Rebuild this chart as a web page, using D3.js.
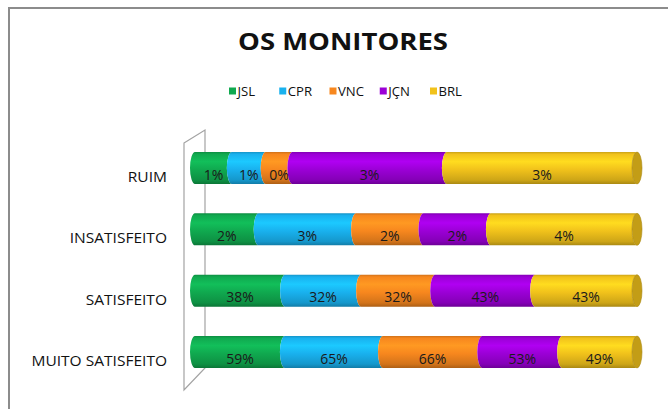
<!DOCTYPE html>
<html>
<head>
<meta charset="utf-8">
<script src="https://cdn.jsdelivr.net/npm/d3@7"></script>
<style>
  body { margin: 0; background: #fff; }
  text { font-family: "Open Sans", sans-serif; }
</style>
</head>
<body>
<div id="chart"></div>
<script>
// categories top to bottom, and one array per monitor
const categories = ["RUIM", "INSATISFEITO", "SATISFEITO", "MUITO SATISFEITO"];
const series = ["JSL", "CPR", "VNC", "JÇN", "BRL"];
const jsl = [0.62, 1.7, 38.4, 59.4];
const cpr = [0.57, 2.6, 32.4, 64.8];
const vnc = [0.45, 1.8, 31.6, 65.6];
const jcn = [2.6, 1.8, 42.6, 52.8];
const brl = [3.2, 3.9, 43.4, 49.4];
const colors = ["#10a94f", "#19b1ee", "#f7871e", "#9b00d6", "#f1c21b"];

const width = 668;
const height = 409;

const svg = d3.select("#chart")
    .append("svg")
    .attr("width", width)
    .attr("height", height);

// widen text a little, the original font runs wider than Open Sans
function stretch(sel, k) {
    sel.each(function () {
        const w = this.getComputedTextLength();
        d3.select(this)
            .attr("textLength", w * k)
            .attr("lengthAdjust", "spacingAndGlyphs");
    });
}

// build rows for the stack
const rows = categories.map((c, i) => ({
    cat: c, JSL: jsl[i], CPR: cpr[i], VNC: vnc[i], "JÇN": jcn[i], BRL: brl[i]
}));
const stacked = d3.stack().keys(series).offset(d3.stackOffsetExpand)(rows);

// Set scales
const x = d3.scaleLinear().domain([0, 1]).range([195, 637]);
const y = d3.scalePoint().domain(categories).range([168, 352]);
const color = d3.scaleOrdinal().domain(series).range(colors);
const barH = 32;
const rx = 5;

// gradients for the cylinder look
const defs = svg.append("defs");
series.forEach((s, i) => {
    const c = d3.color(colors[i]);
    const g = defs.append("linearGradient")
        .attr("id", "grad" + i)
        .attr("x1", 0).attr("y1", 0).attr("x2", 0).attr("y2", 1);
    const stops = [
        [0, c.darker(0.5)], [0.07, c], [0.3, c.brighter(0.35)],
        [0.55, c], [0.88, c.darker(0.45)], [1, c.darker(1)]
    ];
    stops.forEach(st => g.append("stop")
        .attr("offset", st[0]).attr("stop-color", st[1].formatHex()));
});

// chart border
svg.append("rect")
    .attr("x", 9).attr("y", 8)
    .attr("width", 700).attr("height", 500)
    .attr("fill", "none")
    .attr("stroke", "#8c8c8c")
    .attr("stroke-width", 2);

// Title
svg.append("text")
    .attr("x", 343)
    .attr("y", 49.5)
    .attr("text-anchor", "middle")
    .attr("textLength", 210)
    .attr("lengthAdjust", "spacingAndGlyphs")
    .style("font-size", "23px")
    .style("font-weight", "bold")
    .attr("fill", "#111")
    .text("OS MONITORES");

// Legend
const lx = d3.scalePoint().domain(series).range([229, 430]);
const legend = svg.append("g").attr("class", "legend");
legend.selectAll("rect")
    .data(series)
    .enter()
    .append("rect")
    .attr("x", d => lx(d))
    .attr("y", 87.5)
    .attr("width", 7)
    .attr("height", 7)
    .attr("fill", d => color(d));
legend.selectAll("text")
    .data(series)
    .enter()
    .append("text")
    .attr("x", d => lx(d) + 8.5)
    .attr("y", 95.5)
    .attr("fill", "#111")
    .style("font-size", "12.5px")
    .text(d => d)
    .call(stretch, 1.05);

// back wall of the 3D plot
svg.append("path")
    .attr("d", "M184,143 L205,130 L205,368 L184,390 Z")
    .attr("fill", "#fff")
    .attr("stroke", "#a3a3a3")
    .attr("stroke-width", 1.2);

// category labels
svg.append("g")
    .selectAll("text")
    .data(categories)
    .enter()
    .append("text")
    .attr("x", 167)
    .attr("y", d => y(d) + 14)
    .attr("text-anchor", "end")
    .attr("fill", "#111")
    .style("font-size", "14.5px")
    .text(d => d)
    .call(stretch, 1.07);

// segment path: left edge bulges left, right edge leaves room for the next one
function segPath(x0, x1, cy) {
    const t = cy - barH / 2, b = cy + barH / 2, ry = barH / 2;
    return `M${x0},${t} A${rx},${ry} 0 0 0 ${x0},${b} L${x1},${b} A${rx},${ry} 0 0 1 ${x1},${t} Z`;
}

const bars = svg.append("g");
stacked.forEach((layer, i) => {
    bars.append("g")
        .selectAll("path")
        .data(layer)
        .enter()
        .append("path")
        .attr("d", d => segPath(x(d[0]), x(d[1]), y(d.data.cat)))
        .attr("fill", `url(#grad${i})`);
});

// end face of each cylinder
const last = stacked[stacked.length - 1];
bars.append("g")
    .selectAll("ellipse")
    .data(last)
    .enter()
    .append("ellipse")
    .attr("cx", d => x(d[1]))
    .attr("cy", d => y(d.data.cat))
    .attr("rx", rx)
    .attr("ry", barH / 2)
    .attr("fill", d3.color(colors[4]).darker(0.6).formatHex())
    .attr("stroke", d3.color(colors[4]).darker(1).formatHex())
    .attr("stroke-width", 0.6);

// value labels
stacked.forEach((layer, i) => {
    bars.append("g")
        .selectAll("text")
        .data(layer)
        .enter()
        .append("text")
        .attr("x", d => (x(d[0]) + x(d[1])) / 2)
        .attr("y", d => y(d.data.cat) + 11.5)
        .attr("text-anchor", "middle")
        .attr("fill", "#1a1a1a")
        .style("font-size", "14px")
        .text(d => Math.round(d.data[series[i]]) + "%");
});
</script>
</body>
</html>
